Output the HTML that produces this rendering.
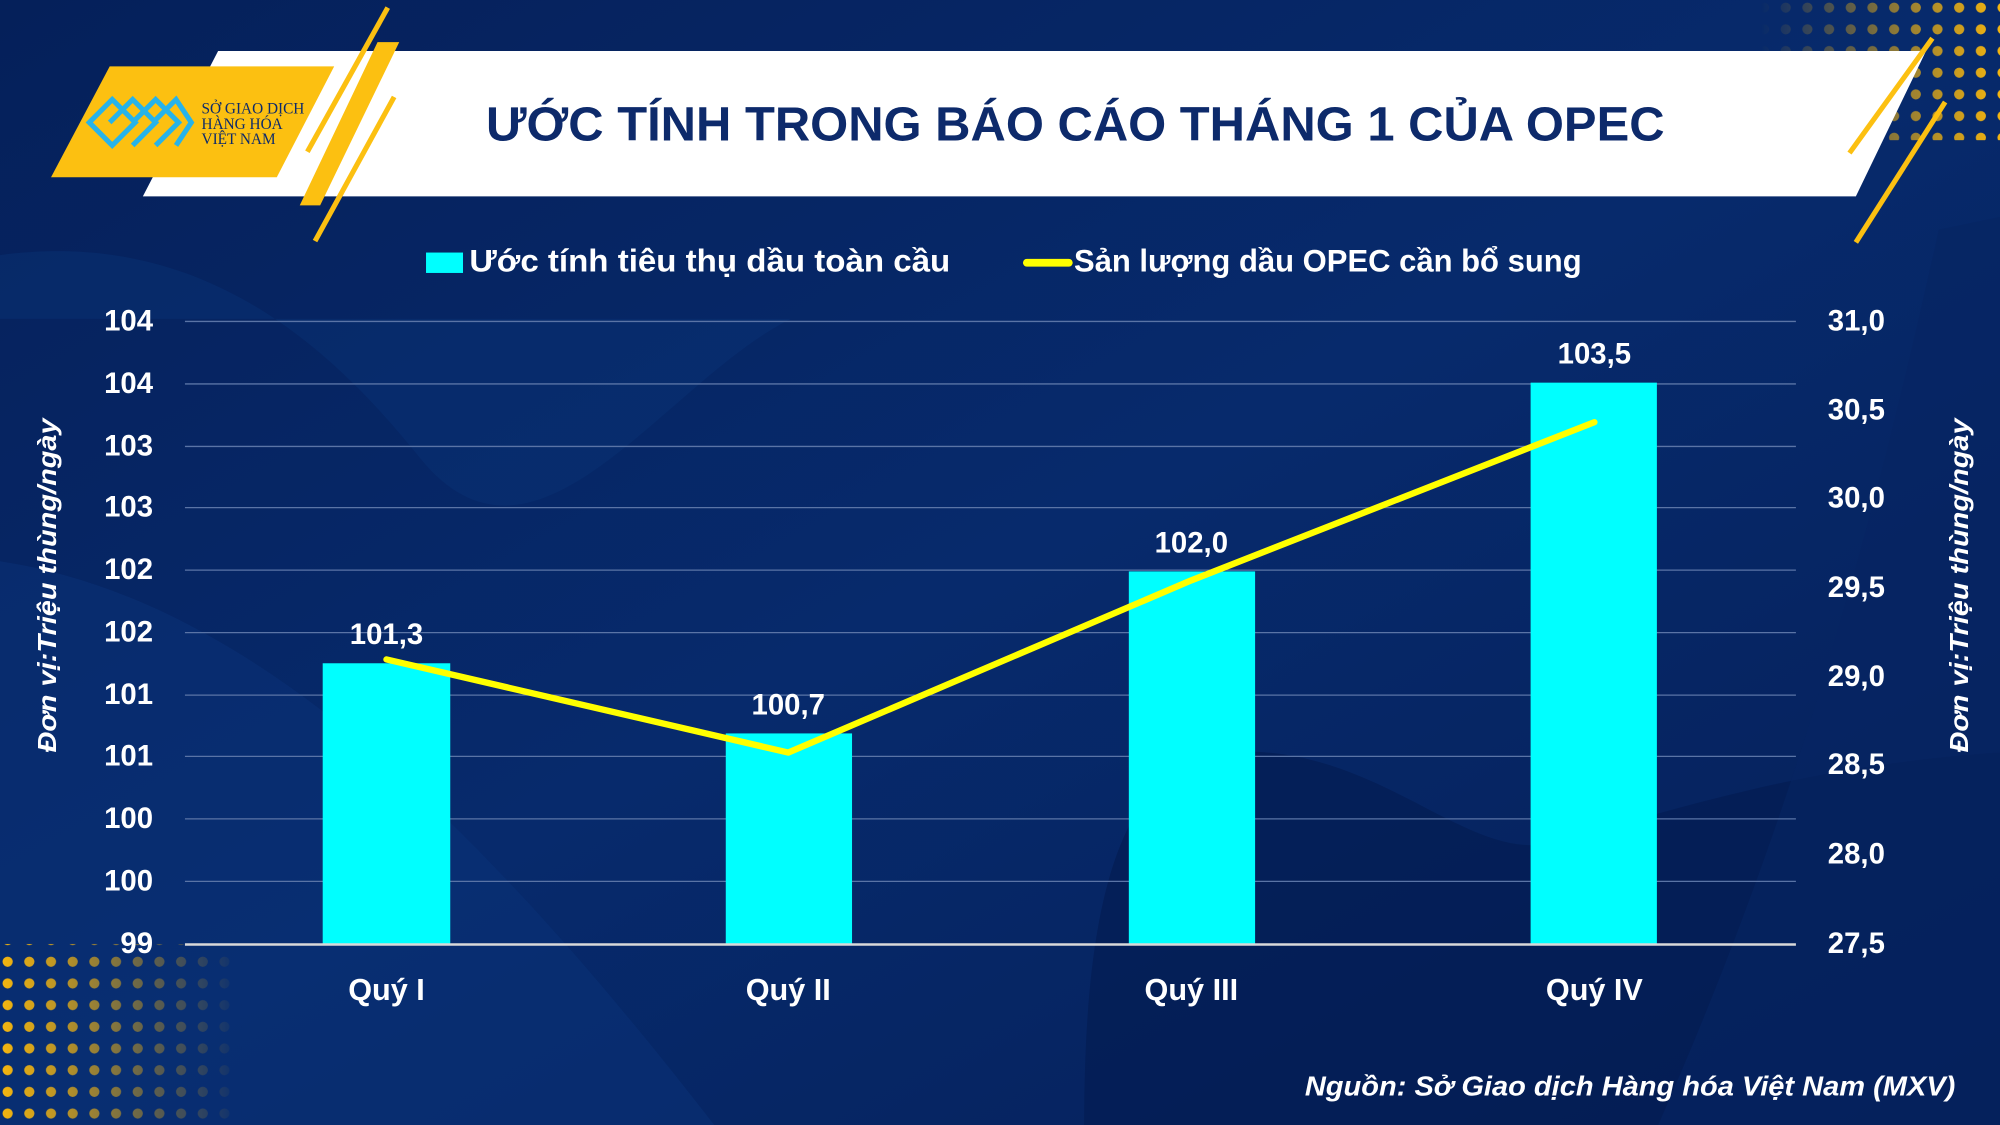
<!DOCTYPE html>
<html><head><meta charset="utf-8"><style>
html,body{margin:0;padding:0;background:#062a6c;}
svg{display:block}
text{font-family:"Liberation Sans",sans-serif;font-weight:bold}
</style></head><body>
<svg width="2000" height="1125" viewBox="0 0 1568 882" xmlns="http://www.w3.org/2000/svg">
<defs>
<linearGradient id="bg" x1="0" y1="0" x2="1" y2="1">
<stop offset="0" stop-color="#05205a"/><stop offset="0.5" stop-color="#072a6c"/><stop offset="1" stop-color="#051f58"/>
</linearGradient>
<pattern id="dots" width="17" height="17" patternUnits="userSpaceOnUse"><circle cx="6" cy="6" r="4" fill="#f5b60f"/></pattern>
<linearGradient id="fadeL" x1="0" x2="1"><stop offset="0" stop-color="#fff"/><stop offset="1" stop-color="#fff" stop-opacity="0"/></linearGradient>
<mask id="mL"><rect x="0" y="740" width="190" height="142" fill="url(#fadeL)"/></mask>
<linearGradient id="fadeR" x1="1" x2="0"><stop offset="0" stop-color="#fff"/><stop offset="1" stop-color="#fff" stop-opacity="0"/></linearGradient>
<mask id="mR"><rect x="1380" y="0" width="188" height="110" fill="url(#fadeR)"/></mask>
</defs>
<rect width="1568" height="882" fill="url(#bg)"/>
<path d="M0 200 C150 180 250 260 330 360 C420 470 520 300 620 250 L0 250Z" fill="#0b3479" opacity="0.4"/>
<path d="M0 440 C200 470 380 650 560 882 L0 882Z" fill="#0a3178" opacity="0.5"/>
<path d="M850 882 C850 700 880 600 960 590 C1080 580 1150 680 1220 660 C1330 630 1420 600 1568 590 L1568 882Z" fill="#041c52" opacity="0.7"/>
<path d="M1300 882 C1380 700 1450 500 1520 180 L1568 170 L1568 882Z" fill="#062563" opacity="0.6"/>
<rect x="0" y="740" width="190" height="142" fill="url(#dots)" mask="url(#mL)"/>
<rect x="1380" y="0" width="188" height="110" fill="url(#dots)" mask="url(#mR)"/>
<!-- banner -->
<polygon points="171,40 1510,40 1455,154 112,154" fill="#ffffff"/>
<polygon points="86,52 262,52 217,139 40,139" fill="#fcc011"/>
<polygon points="296,33 313,33 251,161 235,161" fill="#fcc011"/>
<line x1="304" y1="6" x2="241" y2="119" stroke="#fcc011" stroke-width="4"/>
<line x1="309" y1="76" x2="247" y2="189" stroke="#fcc011" stroke-width="4"/>
<line x1="1515" y1="30" x2="1450" y2="120" stroke="#fcc011" stroke-width="4"/>
<line x1="1525" y1="80" x2="1455" y2="190" stroke="#fcc011" stroke-width="4"/>
<g fill="none" stroke="#27b3ea" stroke-width="4">
<path d="M70 96 L88 78 L106 96 L88 114Z"/><path d="M86 96 L104 78 L122 96 L104 114"/><path d="M104 96 L122 78 L140 96 L122 114"/><path d="M120 96 L138 78 L150 96 L138 114"/>
</g>
<text x="158" y="89" font-size="12" fill="#0d2a6b" style="font-family:'Liberation Serif',serif;font-weight:normal">SỞ GIAO DỊCH</text>
<text x="158" y="101" font-size="12" fill="#0d2a6b" style="font-family:'Liberation Serif',serif;font-weight:normal">HÀNG HÓA</text>
<text x="158" y="113" font-size="12" fill="#0d2a6b" style="font-family:'Liberation Serif',serif;font-weight:normal">VIỆT NAM</text>
<text x="843" y="110" font-size="38" fill="#0d2a6b" text-anchor="middle" textLength="924" lengthAdjust="spacingAndGlyphs">ƯỚC TÍNH TRONG BÁO CÁO THÁNG 1 CỦA OPEC</text>
<!-- legend -->
<rect x="334" y="198" width="29" height="16" fill="#00ffff"/>
<text x="368" y="213" font-size="25" fill="#fff" textLength="377" lengthAdjust="spacingAndGlyphs">Ước tính tiêu thụ dầu toàn cầu</text>
<line x1="805" y1="206" x2="838" y2="206" stroke="#ffff00" stroke-width="6" stroke-linecap="round"/>
<text x="842" y="213" font-size="25" fill="#fff" textLength="398" lengthAdjust="spacingAndGlyphs">Sản lượng dầu OPEC cần bổ sung</text>
<!-- grid -->
<g stroke="#5a74a6" stroke-width="1">
<line x1="145" y1="252" x2="1408" y2="252"/><line x1="145" y1="301" x2="1408" y2="301"/><line x1="145" y1="350" x2="1408" y2="350"/><line x1="145" y1="398" x2="1408" y2="398"/><line x1="145" y1="447" x2="1408" y2="447"/><line x1="145" y1="496" x2="1408" y2="496"/><line x1="145" y1="545" x2="1408" y2="545"/><line x1="145" y1="593" x2="1408" y2="593"/><line x1="145" y1="642" x2="1408" y2="642"/><line x1="145" y1="691" x2="1408" y2="691"/>
</g>
<g font-size="23" fill="#fff" text-anchor="end">
<text x="120" y="259">104</text><text x="120" y="308">104</text><text x="120" y="357">103</text><text x="120" y="405">103</text><text x="120" y="454">102</text><text x="120" y="503">102</text><text x="120" y="552">101</text><text x="120" y="600">101</text><text x="120" y="649">100</text><text x="120" y="698">100</text><text x="120" y="747">99</text>
</g>
<g font-size="23" fill="#fff">
<text x="1433" y="259">31,0</text><text x="1433" y="329">30,5</text><text x="1433" y="398">30,0</text><text x="1433" y="468">29,5</text><text x="1433" y="538">29,0</text><text x="1433" y="607">28,5</text><text x="1433" y="677">28,0</text><text x="1433" y="747">27,5</text>
</g>
<!-- bars -->
<g fill="#00ffff">
<rect x="253" y="520" width="100" height="220"/><rect x="569" y="575" width="99" height="165"/><rect x="885" y="448" width="99" height="292"/><rect x="1200" y="300" width="99" height="440"/>
</g>
<line x1="145" y1="740.5" x2="1408" y2="740.5" stroke="#d9d9d9" stroke-width="2"/>
<g font-size="23" fill="#fff" text-anchor="middle">
<text x="303" y="505">101,3</text><text x="618" y="560">100,7</text><text x="934" y="433">102,0</text><text x="1250" y="285">103,5</text>
</g>
<polyline points="303,517 618,590 934,455 1250,331" fill="none" stroke="#ffff00" stroke-width="5" stroke-linejoin="round" stroke-linecap="round"/>
<g font-size="24" fill="#fff" text-anchor="middle">
<text x="303" y="784">Quý I</text><text x="618" y="784">Quý II</text><text x="934" y="784">Quý III</text><text x="1250" y="784">Quý IV</text>
</g>
<text transform="translate(44,459) rotate(-90)" font-size="20" font-style="italic" fill="#fff" text-anchor="middle" textLength="262" lengthAdjust="spacingAndGlyphs">Đơn vị:Triệu thùng/ngày</text>
<text transform="translate(1543,459) rotate(-90)" font-size="20" font-style="italic" fill="#fff" text-anchor="middle" textLength="262" lengthAdjust="spacingAndGlyphs">Đơn vị:Triệu thùng/ngày</text>
<text x="1533" y="859" font-size="22" font-style="italic" fill="#fff" text-anchor="end" textLength="510" lengthAdjust="spacingAndGlyphs">Nguồn: Sở Giao dịch Hàng hóa Việt Nam (MXV)</text>
</svg>
</body></html>
